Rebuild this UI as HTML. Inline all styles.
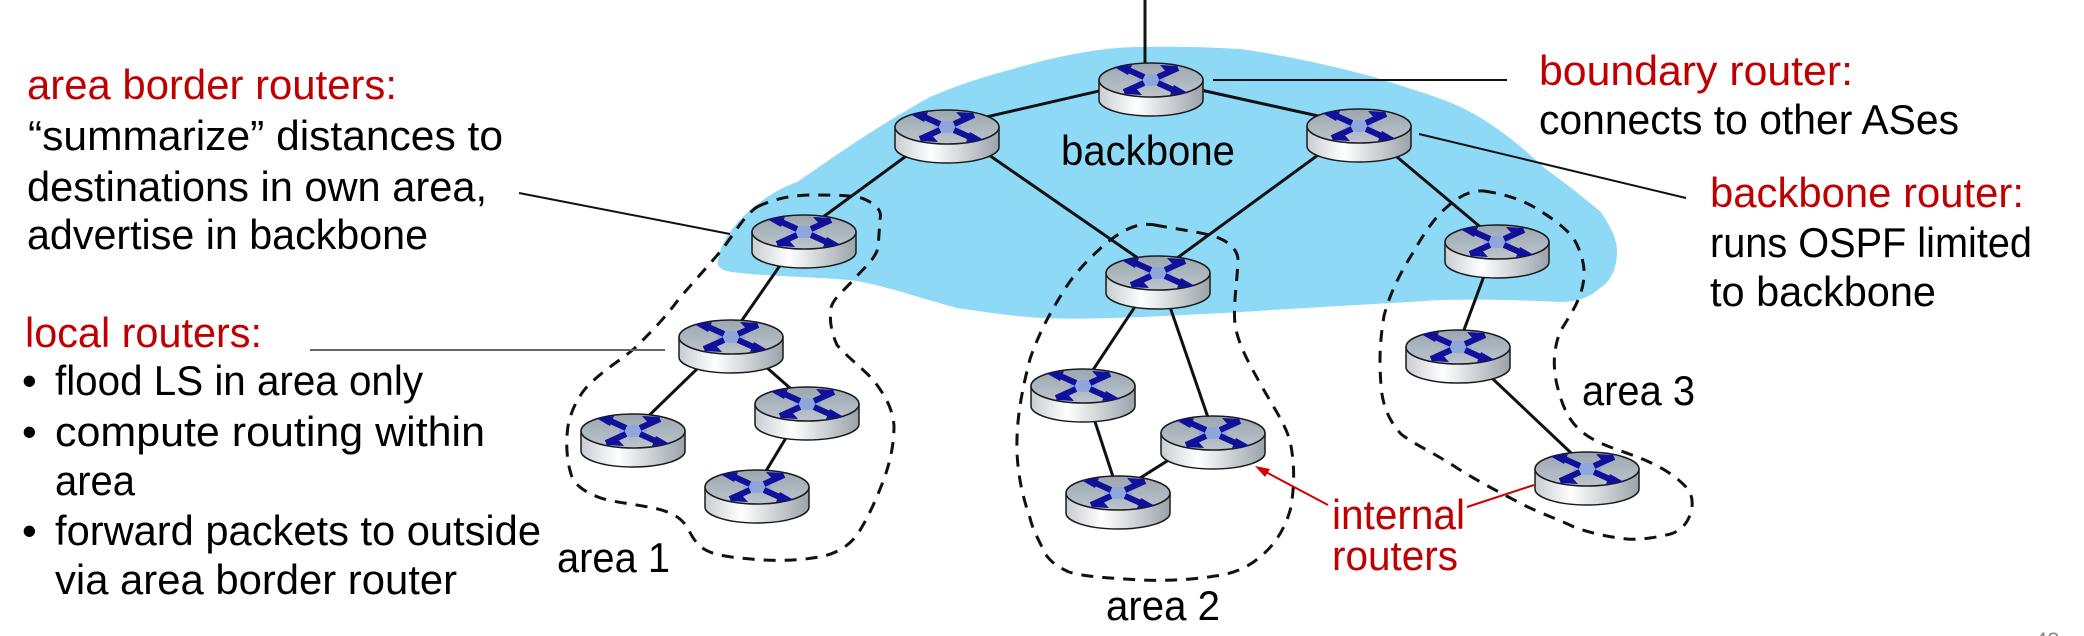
<!DOCTYPE html>
<html><head><meta charset="utf-8"><style>
html,body{margin:0;padding:0;background:#fff;}
svg{display:block;}
text{font-family:"Liberation Sans",sans-serif;font-size:42px;}
.r{fill:#c00000;}
</style></head><body>
<svg width="2084" height="636" viewBox="0 0 2084 636" xmlns="http://www.w3.org/2000/svg">
<defs>
<linearGradient id="side" x1="0" x2="1" y1="0" y2="0">
<stop offset="0" stop-color="#c8cdd2"/><stop offset="0.35" stop-color="#ffffff"/><stop offset="1" stop-color="#9aa3aa"/>
</linearGradient>
<linearGradient id="top" x1="0" x2="0" y1="0" y2="1">
<stop offset="0" stop-color="#9aa6b0"/><stop offset="1" stop-color="#bcc5cc"/>
</linearGradient>
<g id="rt">
<path d="M1,17 L1,37 A52,16 0 0 0 105,37 L105,17 Z" fill="url(#side)" stroke="#1a1a1a" stroke-width="1.5"/>
<ellipse cx="53" cy="17" rx="52" ry="17" fill="url(#top)" stroke="#1a1a1a" stroke-width="1.5"/>
<ellipse cx="53" cy="17" rx="14" ry="6" fill="#8ea6dc"/>
<g stroke="#10109a" stroke-width="6" stroke-linecap="butt">
<line x1="26" y1="5" x2="46" y2="14"/><line x1="60" y1="20" x2="80" y2="29"/>
<line x1="80" y1="5" x2="60" y2="14"/><line x1="46" y1="20" x2="26" y2="29"/>
</g>
<g fill="#10109a">
<polygon points="62,2 80,3 71,12"/><polygon points="44,32 26,31 35,22"/>
<polygon points="16,4 34,2 30,12"/><polygon points="90,30 72,32 76,22"/>
</g>
</g>
</defs>

<path d="M718,260 C722,230 760,195 797,182 C830,160 864,134 930,97 C970,80 997,73 1042,61 C1080,52 1110,47 1142,47 C1190,46 1220,48 1241,49 C1300,58 1340,68 1374,77 C1420,92 1450,100 1474,114 C1510,135 1530,155 1547,170 C1575,190 1592,205 1600,211 C1612,228 1617,240 1617,251 C1617,270 1610,282 1600,288 C1590,298 1575,302 1560,302 C1520,300 1480,299 1441,300 C1380,304 1300,308 1241,312 C1150,317 1090,320 1042,318 C1010,316 985,312 957,308 C920,298 880,284 850,280 C800,276 760,276 731,272 C720,270 716,266 718,260 Z" fill="#8ed9f6"/>

<g fill="none" stroke="#111" stroke-width="3" stroke-dasharray="12,9">
<path d="M757,207 C775,198 795,195 811,195 C835,195 855,195 864,199 C878,205 882,212 880,219 C879,232 879,242 877,251 C872,262 864,268 857,276 C845,290 833,298 831,308 C829,322 832,334 837,345 C850,360 868,372 877,385 C888,400 893,412 894,426 C894,445 890,462 884,479 C876,500 867,520 857,535 C848,547 836,553 824,556 C805,560 785,561 764,560 C735,558 715,556 704,549 C692,541 690,530 684,523 C676,514 668,512 658,509 C630,503 610,502 598,497 C580,490 573,482 571,474 C566,458 566,440 568,426 C571,410 578,398 585,389 C602,370 625,358 638,345 C655,328 668,314 678,300 C695,280 712,262 724,247 C735,232 745,215 757,207 Z"/>
<path d="M1155,225 C1180,230 1205,232 1221,239 C1232,244 1238,252 1238,260 C1237,285 1233,305 1235,324 C1238,345 1250,365 1261,385 C1275,410 1288,428 1291,446 C1295,468 1294,488 1291,507 C1286,527 1275,545 1261,556 C1248,568 1232,574 1215,576 C1190,580 1165,581 1142,580 C1110,578 1085,577 1069,572 C1055,566 1046,558 1042,547 C1036,535 1032,527 1030,518 C1022,495 1018,475 1017,452 C1016,420 1022,390 1030,359 C1040,330 1052,310 1063,292 C1075,272 1090,258 1103,246 C1115,236 1125,229 1136,226 C1143,224 1150,224 1155,225 Z"/>
<path d="M1484,191 C1505,194 1522,200 1534,207 C1552,218 1566,228 1574,239 C1583,255 1586,270 1583,284 C1580,302 1568,318 1560,332 C1553,350 1553,368 1557,385 C1562,405 1568,420 1580,430 C1595,444 1620,450 1640,458 C1660,466 1676,476 1686,487 C1694,496 1693,506 1690,515 C1686,526 1678,533 1666,535 C1652,538 1640,540 1627,539 C1608,537 1590,533 1574,527 C1555,518 1537,512 1520,503 C1495,490 1472,478 1454,466 C1432,452 1412,443 1401,434 C1388,420 1382,403 1381,385 C1379,360 1380,340 1384,316 C1390,292 1402,270 1414,251 C1423,235 1434,218 1447,207 C1458,197 1470,190 1484,191 Z"/>
</g>

<g stroke="#111" stroke-width="3" fill="none">
<line x1="1145" y1="0" x2="1145" y2="70"/>
<line x1="1151" y1="79" x2="947" y2="126"/>
<line x1="1151" y1="79" x2="1359" y2="125"/>
<line x1="947" y1="126" x2="804" y2="231"/>
<line x1="947" y1="126" x2="1158" y2="272"/>
<line x1="1359" y1="125" x2="1158" y2="272"/>
<line x1="1359" y1="125" x2="1497" y2="241"/>
<line x1="804" y1="231" x2="731" y2="336"/>
<line x1="731" y1="336" x2="634" y2="430"/>
<line x1="731" y1="336" x2="807" y2="403"/>
<line x1="807" y1="403" x2="757" y2="486"/>
<line x1="1158" y1="272" x2="1083" y2="385"/>
<line x1="1158" y1="272" x2="1213" y2="432"/>
<line x1="1083" y1="385" x2="1118" y2="492"/>
<line x1="1118" y1="492" x2="1213" y2="432"/>
<line x1="1497" y1="241" x2="1458" y2="346"/>
<line x1="1458" y1="346" x2="1587" y2="468"/>
</g>

<use href="#rt" x="1098" y="63"/>
<use href="#rt" x="894" y="110"/>
<use href="#rt" x="1306" y="109"/>
<use href="#rt" x="751" y="215"/>
<use href="#rt" x="1105" y="256"/>
<use href="#rt" x="1444" y="225"/>
<use href="#rt" x="678" y="320"/>
<use href="#rt" x="580" y="414"/>
<use href="#rt" x="754" y="387"/>
<use href="#rt" x="704" y="470"/>
<use href="#rt" x="1030" y="369"/>
<use href="#rt" x="1160" y="416"/>
<use href="#rt" x="1065" y="476"/>
<use href="#rt" x="1405" y="330"/>
<use href="#rt" x="1534" y="452"/>

<g stroke="#111" stroke-width="2">
<line x1="519" y1="193" x2="730" y2="234"/>
<line x1="1213" y1="80" x2="1507" y2="80"/>
<line x1="1419" y1="134" x2="1686" y2="198"/>
</g>
<line x1="310" y1="350" x2="665" y2="350" stroke="#666" stroke-width="2"/>
<g stroke="#d00000" stroke-width="2">
<line x1="1328" y1="505" x2="1262" y2="470"/>
<line x1="1467" y1="507" x2="1534" y2="485"/>
</g>
<polygon points="1255,466 1270,469 1265,477" fill="#d00000"/>

<text class="r" x="27" y="99" textLength="370" lengthAdjust="spacingAndGlyphs">area border routers:</text>
<text x="28" y="150" textLength="475" lengthAdjust="spacingAndGlyphs">“summarize” distances  to</text>
<text x="27" y="201" textLength="460" lengthAdjust="spacingAndGlyphs">destinations in own area,</text>
<text x="27" y="249" textLength="401" lengthAdjust="spacingAndGlyphs">advertise in backbone</text>
<text class="r" x="25" y="347" textLength="237" lengthAdjust="spacingAndGlyphs">local routers:</text>
<text x="22" y="395">•</text>
<text x="55" y="395" textLength="368" lengthAdjust="spacingAndGlyphs">flood LS in area only</text>
<text x="22" y="446">•</text>
<text x="55" y="446" textLength="430" lengthAdjust="spacingAndGlyphs">compute routing within</text>
<text x="55" y="495" textLength="80" lengthAdjust="spacingAndGlyphs">area</text>
<text x="22" y="545">•</text>
<text x="55" y="545" textLength="486" lengthAdjust="spacingAndGlyphs">forward packets to outside</text>
<text x="55" y="594" textLength="402" lengthAdjust="spacingAndGlyphs">via area border router</text>
<text x="557" y="572" textLength="113" lengthAdjust="spacingAndGlyphs">area 1</text>
<text x="1061" y="165" textLength="174" lengthAdjust="spacingAndGlyphs">backbone</text>
<text class="r" x="1539" y="85" textLength="314" lengthAdjust="spacingAndGlyphs">boundary router:</text>
<text x="1539" y="134" textLength="420" lengthAdjust="spacingAndGlyphs">connects to other ASes</text>
<text class="r" x="1710" y="207" textLength="314" lengthAdjust="spacingAndGlyphs">backbone router:</text>
<text x="1710" y="257" textLength="322" lengthAdjust="spacingAndGlyphs">runs OSPF limited</text>
<text x="1710" y="306" textLength="226" lengthAdjust="spacingAndGlyphs">to backbone</text>
<text x="1582" y="405" textLength="113" lengthAdjust="spacingAndGlyphs">area 3</text>
<text class="r" x="1332" y="529" textLength="133" lengthAdjust="spacingAndGlyphs">internal</text>
<text class="r" x="1332" y="570" textLength="126" lengthAdjust="spacingAndGlyphs">routers</text>
<text x="1106" y="620" textLength="114" lengthAdjust="spacingAndGlyphs">area 2</text>
<text x="2035" y="648" style="font-size:22px;fill:#888">48</text>
</svg>
</body></html>
